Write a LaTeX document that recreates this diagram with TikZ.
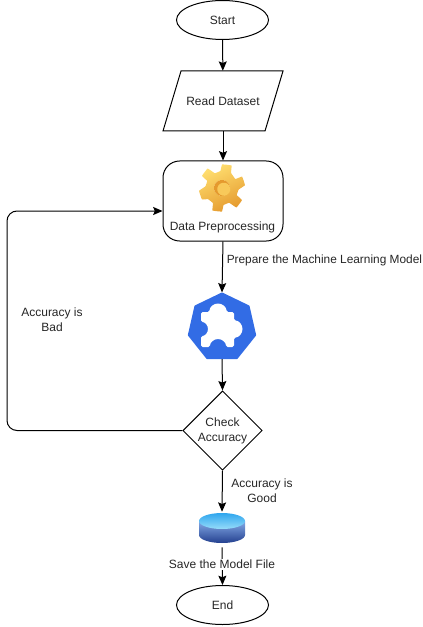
\documentclass[tikz,border=0pt]{standalone}
\usepackage{fontspec}
\setmainfont{Liberation Sans}
\usetikzlibrary{arrows.meta,shapes.geometric,calc}
\definecolor{kblue}{HTML}{326CE5}
\definecolor{gearlight}{HTML}{FFDF70}
\definecolor{geardark}{HTML}{E59A2E}
\definecolor{geartop}{HTML}{F8C95A}
\definecolor{dbtop}{HTML}{2FA6EE}
\definecolor{dbtopb}{HTML}{96DCFA}
\definecolor{dbmid}{HTML}{4F86DC}
\definecolor{dbbot}{HTML}{24408F}
\tikzset{
  lbl/.style={font=\fontsize{9}{11.4}\selectfont,align=center,inner sep=0pt,text=black!85},
  term/.style={draw,ellipse,line width=0.75pt,minimum width=69pt,minimum height=29.25pt,inner sep=0pt,lbl},
  flow/.style={line width=0.75pt,-{Stealth[length=7pt,width=6pt,inset=1.2pt]}},
  plain/.style={line width=0.75pt},
}
\begin{document}
\begin{tikzpicture}[x=0.75pt,y=-0.75pt]
\useasboundingbox (0,0) rectangle (423,627);
% Shapes
\node[term] (start) at (222.5,20) {Start};
\node[lbl,minimum width=76.5pt,minimum height=45pt] (read) at (223,101) {Read Dataset};
\draw[plain] (181,71) -- (283,71) -- (265,131) -- (163,131) -- cycle;
\node[draw,rounded corners=12.5pt,line width=0.75pt,minimum width=90pt,minimum height=60pt,inner sep=0pt] (prep) at (223,201) {};
\node[lbl] (preplbl) at (222.5,227) {Data Preprocessing};
% Gear
\node[inner sep=0pt,minimum size=33pt] (gear) at (222,188) {};
\begin{scope}[shift={(222,188)},rotate=12]
  \shadedraw[draw=none,top color=gearlight,bottom color=geardark,shading angle=25,even odd rule]
    plot[smooth cycle,tension=0.15] coordinates {
      (15,-6)(22,-7)(23,2)(16,5)
      (13,10)(17,16)(10,22)(4,16)
      (-2,17)(-5,23)(-14,20)(-12,13)
      (-16,8)(-22,7)(-23,-2)(-16,-5)
      (-13,-10)(-17,-16)(-10,-22)(-4,-16)
      (2,-17)(5,-23)(14,-20)(12,-13)}
    (0,0) circle (8);
  \fill[geardark] (0,0) circle (8);
  \fill[geartop] (1.5,1.5) circle (6.5);
\end{scope}
% Heptagon
\node[regular polygon,regular polygon sides=7,fill=kblue,draw=kblue,line join=round,line width=1.5pt,minimum size=51pt,inner sep=0pt] (kube) at (222,327.5) {};
\fill[white,rounded corners=1.2pt]
  (201,312) -- (209.5,312) arc[start angle=180,end angle=360,radius=8.5] -- (234,312) -- (234,320.5)
  arc[start angle=-90,end angle=90,radius=8.5] -- (234,347) -- (226,347)
  arc[start angle=0,end angle=-180,radius=8] -- (201,347) -- (201,336)
  arc[start angle=90,end angle=-90,radius=7] -- cycle;
% Diamond
\node[draw,diamond,line width=0.75pt,minimum width=59.5pt,minimum height=59.5pt,inner sep=0pt,lbl] (check) at (222.5,430.5) {Check\\Accuracy};
% Cylinder
\node[inner sep=0pt,minimum width=34.5pt,minimum height=22.5pt] (db) at (222,528) {};
\shade[top color=dbmid!70!white,bottom color=dbbot]
  (199,521) -- (199,535) arc[start angle=180,end angle=0,x radius=23,y radius=8] -- (245,521) -- cycle;
\shade[top color=dbtop,bottom color=dbtopb] (222,521) ellipse[x radius=23,y radius=8];
\node[term] (end) at (222.5,605) {End};
% Connectors
\draw[flow] (start) -- (read);
\draw[flow] (read.south) -- (prep);
\draw[flow] (prep.south) -- (kube.north);
\draw[flow] (kube.south) -- (check.north);
\draw[flow] (check.south) -- ($(db.north)+(0,-1)$);
\draw[flow] ($(db.south)+(0,4)$) -- (end.north);
\draw[flow,rounded corners=7.5pt] (check.west) -- (7,430.5) -- (7,211) -- (prep.west |- 0,211);
% Labels
\node[lbl,fill=white,inner ysep=1pt] (save) at (222,564.5) {Save the Model File};
\node[lbl,anchor=west,font=\fontsize{8.9}{11.4}\selectfont] (ml) at (226.5,260.5) {Prepare the Machine Learning Model};
\node[lbl] (bad) at (52,320) {Accuracy is\\Bad};
\node[lbl] (good) at (262,490.5) {Accuracy is\\Good};
\end{tikzpicture}
\end{document}
